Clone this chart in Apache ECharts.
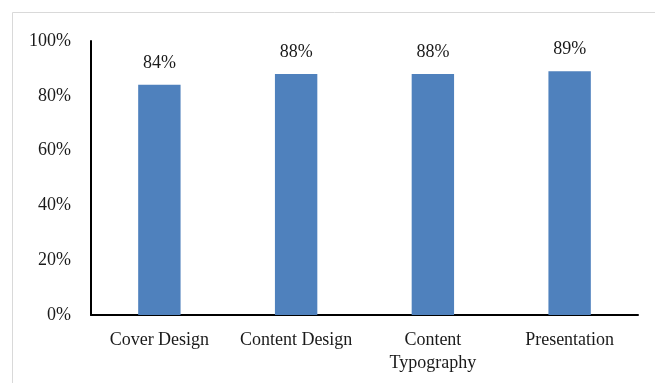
<!DOCTYPE html>
<html>
<head>
<meta charset="utf-8">
<script src="https://cdn.jsdelivr.net/npm/echarts@6/dist/echarts.min.js"></script>
<style>html,body{margin:0;padding:0;background:#fff;}#c{width:655px;height:383px;}</style>
</head>
<body>
<div id="c"></div>
<script>
const categories = ['Cover Design', 'Content Design', 'Content\nTypography', 'Presentation'];
const values = [84, 88, 88, 89];
const yTicks = [0, 20, 40, 60, 80, 100];

const FONT = 'Liberation Serif';
const chart = echarts.init(document.getElementById('c'), null, {renderer: 'canvas'});
chart.setOption({
  backgroundColor: '#fff',
  animation: false,
  graphic: [{
    type: 'rect', silent: true,
    shape: {x: 12.5, y: 12.5, width: 700, height: 500},
    style: {fill: 'none', stroke: '#d9d9d9', lineWidth: 1}
  }],
  grid: {left: 91, right: 17, top: 41, bottom: 68},
  xAxis: {
    type: 'category',
    data: categories,
    axisLine: {lineStyle: {color: '#000', width: 2}},
    axisTick: {show: false},
    axisLabel: {color: '#1a1a1a', fontFamily: FONT, fontSize: 18, margin: 14, lineHeight: 23, interval: 0}
  },
  yAxis: {
    type: 'value', min: 0, max: 100, interval: 20,
    axisLine: {show: true, lineStyle: {color: '#000', width: 2}},
    axisTick: {show: false},
    splitLine: {show: false},
    axisLabel: {color: '#1a1a1a', fontFamily: FONT, fontSize: 18, margin: 20,
      formatter: v => yTicks.includes(v) ? v + '%' : ''}
  },
  series: [{
    type: 'bar',
    data: values,
    barWidth: '31%',
    itemStyle: {color: '#4F81BD'},
    label: {show: true, position: 'top', distance: 13, color: '#1a1a1a', fontFamily: FONT, fontSize: 18,
      formatter: p => p.value + '%'}
  }]
});
</script>
</body>
</html>
